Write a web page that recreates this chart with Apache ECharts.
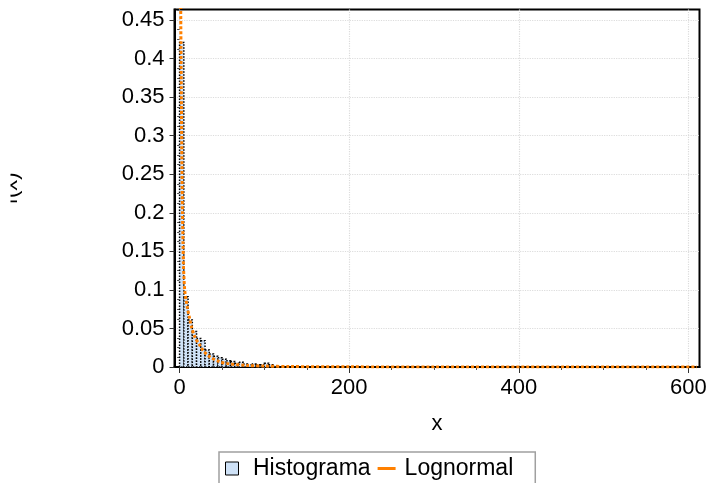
<!DOCTYPE html>
<html>
<head>
<meta charset="utf-8">
<script src="https://cdn.jsdelivr.net/npm/echarts@6/dist/echarts.min.js"></script>
<style>
  html, body { margin: 0; padding: 0; background: #fff; }
  #chart { width: 707px; height: 483px; }
</style>
</head>
<body>
<div id="chart"></div>
<script>
// 直方图：每个柱的起点（宽度 5）
const binWidth = 5;
const binStarts = [0, 5, 10, 15, 20, 25, 30, 35, 40, 45, 50, 55, 60, 65, 70, 75, 80, 85, 90, 95, 100, 105, 110];
const histValues = [0.421, 0.091, 0.061, 0.046, 0.037, 0.034, 0.022, 0.017, 0.014, 0.012, 0.010, 0.008, 0.007, 0.005, 0.006, 0.004, 0.003, 0.004, 0.003, 0.003, 0.005, 0.003, 0.001];

// 对数正态曲线（读图所得）
const curveX = [1.0, 1.6, 2.2, 2.8, 3.4, 4, 4.6, 5.2, 6, 7.5, 9.5, 12, 14, 18, 24, 28, 36, 47, 59, 80, 100, 130, 200, 300, 450, 610];
const curveY = [0.52, 0.42, 0.34, 0.26, 0.2, 0.16, 0.13, 0.115, 0.1, 0.088, 0.075, 0.062, 0.052, 0.039, 0.028, 0.021, 0.013, 0.007, 0.004, 0.002, 0.0012, 0.0006, 0.0002, 0.0001, 0.00003, 0.00001];

// 刻度
const xTicks = [0, 200, 400, 600];
const xMinorTicks = [50, 100, 150, 250, 300, 350, 450, 500, 550];
const yTicks = [0, 0.05, 0.1, 0.15, 0.2, 0.25, 0.3, 0.35, 0.4, 0.45];
const yMinorTicks = [];
for (let i = 0; i < yTicks.length; i++) {
  for (let k = 1; k < 4; k++) {
    const v = +(yTicks[i] + k * 0.0125).toFixed(4);
    if (v < 0.4637) yMinorTicks.push(v);
  }
}

const xMin = -6, xMax = 613;
const yMin = 0, yMax = 0.4637;
const font = "Liberation Sans";

const histData = binStarts.map((s, i) => [s, s + binWidth, histValues[i]]);
const curveData = curveX.map((x, i) => [x, curveY[i]]);

const chart = echarts.init(document.getElementById("chart"));

const option = {
  backgroundColor: "#fff",
  animation: false,
  grid: {
    left: 174.5,
    top: 9.5,
    width: 525,
    height: 357.5,
    show: true,
    borderColor: "#000",
    borderWidth: 2,
    outerBoundsMode: "none",
  },
  legend: {
    left: 219,
    top: 452,
    padding: [5, 22, 5, 6],
    borderColor: "#a0a0a0",
    borderWidth: 1.5,
    itemWidth: 18,
    itemHeight: 13,
    itemGap: 7,
    textStyle: { fontSize: 23, fontFamily: font, color: "#000" },
    data: [
      {
        name: "Histograma",
        icon: "path://M0,0H13V13H0Z",
        itemStyle: { color: "#cfe2f7", borderColor: "#000", borderWidth: 1 },
        textStyle: { padding: [0, 0, 0, 7] },
      },
      {
        name: "Lognormal",
        icon: "path://M0,0H18V3H0Z",
        itemStyle: { color: "#ff8000", borderWidth: 0 },
        textStyle: { padding: [0, 0, 0, 4] },
      },
    ],
  },
  xAxis: [
    {
      type: "value",
      min: xMin,
      max: xMax,
      name: "x",
      nameLocation: "middle",
      nameGap: 46,
      nameTextStyle: { fontSize: 22, fontFamily: font, color: "#000" },
      axisLine: { onZero: false, lineStyle: { color: "#000", width: 2 } },
      axisTick: { customValues: xTicks, length: 6, lineStyle: { color: "#333" } },
      axisLabel: { customValues: xTicks, fontSize: 22, fontFamily: font, color: "#000", margin: 10 },
      splitLine: { show: true, lineStyle: { color: "#dcdcdc", type: "dotted", width: 1.2 } },
    },
    {
      type: "value",
      min: xMin,
      max: xMax,
      position: "bottom",
      axisLine: { show: false },
      axisTick: { customValues: xMinorTicks, length: 3, lineStyle: { color: "#555" } },
      axisLabel: { show: false },
      splitLine: { show: false },
    },
  ],
  yAxis: [
    {
      type: "value",
      min: yMin,
      max: yMax,
      name: "f(x)",
      nameLocation: "middle",
      nameRotate: 90,
      nameGap: 153,
      nameTextStyle: { fontSize: 22, fontFamily: font, color: "#000" },
      axisLine: { onZero: false, lineStyle: { color: "#000", width: 2 } },
      axisTick: { customValues: yTicks, length: 5, lineStyle: { color: "#333" } },
      axisLabel: {
        customValues: yTicks,
        fontSize: 22,
        fontFamily: font,
        color: "#000",
        margin: 10,
        formatter: (v) => String(+v.toFixed(2)),
      },
      splitLine: { show: true, lineStyle: { color: "#dcdcdc", type: "dotted", width: 1.2 } },
    },
    {
      type: "value",
      min: yMin,
      max: yMax,
      position: "left",
      axisLine: { show: false },
      axisTick: { customValues: yMinorTicks, length: 2.5, lineStyle: { color: "#555" } },
      axisLabel: { show: false },
      splitLine: { show: false },
    },
  ],
  graphic: [
    // 原图中 y 轴名称被裁掉一半
    {
      type: "rect",
      left: 0,
      top: 140,
      shape: { width: 10.5, height: 100 },
      style: { fill: "#fff" },
      z: 100,
    },
  ],
  series: [
    {
      name: "Histograma",
      type: "custom",
      xAxisIndex: 0,
      yAxisIndex: 0,
      itemStyle: { color: "#cfe2f7" },
      encode: { x: [0, 1], y: 2 },
      clip: true,
      renderItem: (params, api) => {
        const p0 = api.coord([api.value(0), 0]);
        const p1 = api.coord([api.value(1), api.value(2)]);
        return {
          type: "rect",
          shape: { x: p0[0], y: p1[1], width: p1[0] - p0[0], height: p0[1] - p1[1] },
          style: { fill: "#cfe2f7", stroke: "#000", lineWidth: 1.5, lineDash: [1.5, 1.5] },
        };
      },
      data: histData,
    },
    {
      name: "Lognormal",
      type: "line",
      xAxisIndex: 0,
      yAxisIndex: 0,
      symbol: "none",
      smooth: 0.3,
      clip: true,
      lineStyle: { color: "#ff8000", width: 3, type: [3, 2] },
      itemStyle: { color: "#ff8000" },
      z: 5,
      data: curveData,
    },
  ],
};

option && chart.setOption(option);
</script>
</body>
</html>
